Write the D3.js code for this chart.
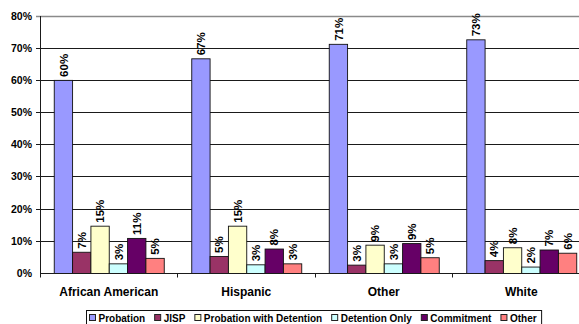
<!DOCTYPE html>
<html>
<head>
<meta charset="utf-8">
<script src="https://cdn.jsdelivr.net/npm/d3@7/dist/d3.min.js"></script>
<style>
  html, body { margin: 0; padding: 0; background: #fff; }
  svg { display: block; font-family: Arial, "Liberation Sans", sans-serif; }
</style>
</head>
<body>
<svg id="chart" width="579" height="324"></svg>
<script>
// Disposition shares by race/ethnicity
const categories = ["African American", "Hispanic", "Other", "White"];
const seriesNames = ["Probation", "JISP", "Probation with Detention", "Detention Only", "Commitment", "Other"];
const seriesColors = ["#9999FF", "#993366", "#FFFFCC", "#CCFFFF", "#660066", "#FF8080"];

const probation      = [0.600, 0.667, 0.712, 0.726];
const jisp           = [0.066, 0.053, 0.026, 0.040];
const probDetention  = [0.147, 0.147, 0.088, 0.080];
const detentionOnly  = [0.030, 0.027, 0.030, 0.020];
const commitment     = [0.109, 0.076, 0.093, 0.073];
const otherDispo     = [0.047, 0.030, 0.049, 0.063];

const yTicks = [0, 0.1, 0.2, 0.3, 0.4, 0.5, 0.6, 0.7, 0.8];

const seriesValues = [probation, jisp, probDetention, detentionOnly, commitment, otherDispo];

const svg = d3.select("#chart");
const W = 579, H = 324;
const plot = { left: 40, right: 590, top: 16, bottom: 273.5 };

const x = d3.scaleBand().domain(categories).range([plot.left, plot.right]).paddingInner(0).paddingOuter(0);
const xs = d3.scaleBand().domain(seriesNames).range([0, x.bandwidth()]).paddingInner(0).paddingOuter(0.75);
const y = d3.scaleLinear().domain([0, 0.8]).range([plot.bottom, plot.top]);
const pct = d3.format(".0%");
const crisp = v => Math.round(v - 0.5) + 0.5;

// horizontal gridlines with outside tick stubs
svg.append("g").selectAll("line").data(yTicks.filter(t => t > 0)).join("line")
  .attr("x1", plot.left - 4).attr("x2", W)
  .attr("y1", d => crisp(y(d))).attr("y2", d => crisp(y(d)))
  .attr("stroke", d => d === 0.8 ? "#8a8a8a" : "#1a1a1a")
  .attr("stroke-width", d => d === 0.8 ? 1.3 : 1);

// y axis labels
svg.append("g").selectAll("text").data(yTicks).join("text")
  .attr("x", 32).attr("y", d => crisp(y(d)))
  .attr("dy", "0.36em")
  .attr("text-anchor", "end")
  .attr("font-size", "10.5px").attr("font-weight", "bold")
  .attr("fill", "#000")
  .text(d => pct(d));

// bars
const groups = svg.append("g").selectAll("g").data(categories).join("g")
  .attr("transform", d => `translate(${x(d)},0)`);

const barData = (cat, ci) => seriesNames.map((s, si) => ({ s, si, v: seriesValues[si][ci] }));

groups.each(function (cat, ci) {
  const g = d3.select(this);
  const data = barData(cat, ci);
  g.selectAll("rect").data(data).join("rect")
    .attr("x", d => xs(d.s) + 0.5)
    .attr("width", xs.bandwidth())
    .attr("y", d => y(d.v))
    .attr("height", d => y(0) - y(d.v))
    .attr("fill", d => seriesColors[d.si])
    .attr("stroke", "#111")
    .attr("stroke-width", 0.9);

  g.selectAll("text").data(data).join("text")
    .attr("transform", d => `translate(${xs(d.s) + 0.5 + xs.bandwidth() / 2},${y(d.v) - 3.5}) rotate(-90)`)
    .attr("dy", "0.36em")
    .attr("text-anchor", "start")
    .attr("font-size", "11.5px").attr("font-weight", "bold")
    .attr("fill", "#000")
    .text(d => pct(d.v));
});

// axes lines
svg.append("line")
  .attr("x1", plot.left + 0.5).attr("x2", plot.left + 0.5)
  .attr("y1", plot.top).attr("y2", plot.bottom + 4)
  .attr("stroke", "#1a1a1a");
svg.append("line")
  .attr("x1", plot.left).attr("x2", W)
  .attr("y1", crisp(y(0))).attr("y2", crisp(y(0)))
  .attr("stroke", "#1a1a1a");
svg.append("g").selectAll("line").data(categories.slice(1)).join("line")
  .attr("x1", d => crisp(x(d))).attr("x2", d => crisp(x(d)))
  .attr("y1", crisp(y(0))).attr("y2", crisp(y(0)) + 4)
  .attr("stroke", "#1a1a1a");

// category labels
svg.append("g").selectAll("text").data(categories).join("text")
  .attr("x", d => x(d) + x.bandwidth() / 2)
  .attr("y", 295.5)
  .attr("text-anchor", "middle")
  .attr("font-size", "12px").attr("font-weight", "bold")
  .attr("fill", "#000")
  .text(d => d);

// legend
const legend = svg.append("g");
const legendBox = legend.append("rect")
  .attr("fill", "#fff").attr("stroke", "#111").attr("stroke-width", 1);
let lx = 89;
const ly = 318;
seriesNames.forEach((name, i) => {
  legend.append("rect")
    .attr("x", lx + 0.5).attr("y", ly - 3.5)
    .attr("width", 6).attr("height", 6)
    .attr("fill", seriesColors[i]).attr("stroke", "#222").attr("stroke-width", 1);
  const t = legend.append("text")
    .attr("x", lx + 9.5).attr("y", ly)
    .attr("dy", "0.36em")
    .attr("font-size", "10px").attr("font-weight", "bold")
    .attr("fill", "#000")
    .text(name);
  lx += 9.5 + t.node().getComputedTextLength() + 9;
});
legendBox.attr("x", 86.5).attr("y", 310.5)
  .attr("width", (lx - 9 + 5) - 86.5).attr("height", 20);
</script>
</body>
</html>
